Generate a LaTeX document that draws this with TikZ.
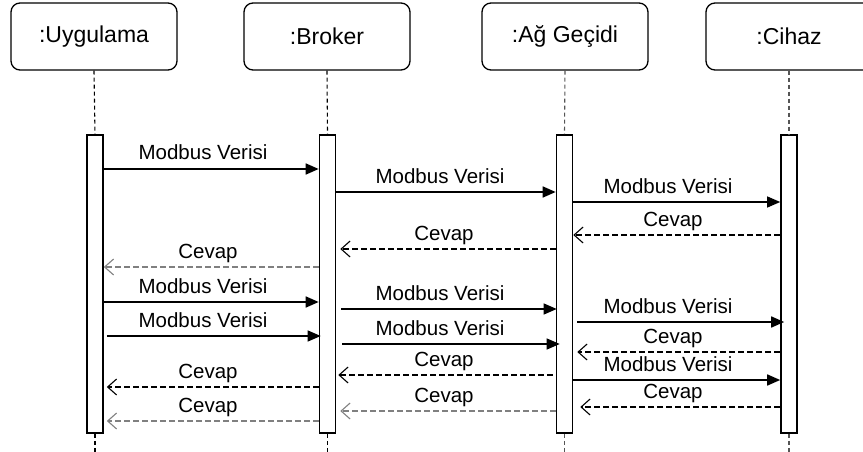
\documentclass[tikz,border=0pt]{standalone}
\usepackage{fontspec}
\setmainfont{Liberation Sans}
\usetikzlibrary{arrows.meta}
\definecolor{retgray}{HTML}{808080}
\definecolor{lifegray}{HTML}{555555}
\begin{document}
\begin{tikzpicture}[x=1pt,y=-1pt,
  head/.style={draw, rounded corners=9pt, line width=1.3pt, minimum width=166pt, minimum height=67pt, font=\fontsize{23}{27}\selectfont, inner sep=0pt},
  bar/.style={draw, fill=white, line width=1.6pt, minimum width=16pt, minimum height=298pt, inner sep=0pt},
  life/.style={line width=1.1pt, dash pattern=on 4pt off 3pt},
  msg/.style={line width=1.6pt, -{Triangle[length=13pt,width=11pt]}},
  thinmsg/.style={line width=1.2pt, -{Triangle[length=13pt,width=11pt]}},
  ret/.style={line width=1.6pt, dash pattern=on 6pt off 3pt, -{Straight Barb[length=9pt,width=16pt,line width=1.1pt]}},
  gret/.style={ret, line width=2pt, draw=retgray},
  lbl/.style={font=\fontsize{20.5}{24}\selectfont, inner sep=0pt, anchor=base}
]
\useasboundingbox (0,0) rectangle (863,452);
% headers
\node[head] (hu) at (94,36.5) {:Uygulama};
\node[head] (hb) at (327,36.5) {:Broker};
\node[head] (hg) at (565,36.5) {:Ağ Geçidi};
\node[head] (hc) at (789,36.5) {:Cihaz};
% activation bars
\node[bar] (u) at (95,284) {};
\node[bar] (b) at (327.5,284) {};
\node[bar] (g) at (564.5,284) {};
\node[bar] (c) at (789,284) {};
% lifelines
\coordinate (eu) at (95,452);
\coordinate (eb) at (327.5,452);
\coordinate (eg) at (564.5,452);
\coordinate (ec) at (789,452);
\draw[life] (hu.south) -- (u.north);
\draw[life] (hb.south) -- (b.north);
\draw[life, draw=lifegray] (hg.south) -- (g.north);
\draw[life, draw=lifegray] (hc.south) -- (c.north);
\draw[life] (u.south) -- (eu);
\draw[life] (b.south) -- (eb);
\draw[life, draw=lifegray] (g.south) -- (eg);
\draw[life, draw=lifegray] (c.south) -- (ec);
% messages
\draw[msg] (u.east |- 0,169) -- (b.west |- 0,169);
\node[lbl] (l1) at (203,160) {Modbus Verisi};
\draw[msg] (b.east |- 0,192) -- (g.west |- 0,192);
\node[lbl] (l2) at (440,183) {Modbus Verisi};
\draw[thinmsg] (g.east |- 0,202) -- (c.west |- 0,202);
\node[lbl] (l3) at (668,193) {Modbus Verisi};
\draw[ret] (c.west |- 0,235) -- (g.east |- 0,235);
\node[lbl] (l4) at (673,226) {Cevap};
\draw[ret] (g.west |- 0,249) -- ([xshift=4pt]b.east |- 0,249);
\node[lbl] (l5) at (444,240) {Cevap};
\draw[gret] (b.west |- 0,267) -- (u.east |- 0,267);
\node[lbl] (l6) at (208,258) {Cevap};
\draw[msg] (u.east |- 0,302) -- (b.west |- 0,302);
\node[lbl] (l7) at (203,293) {Modbus Verisi};
\draw[thinmsg] ([xshift=3pt]u.east |- 0,336) -- ([xshift=2pt]b.west |- 0,336);
\node[lbl] (l8) at (203,327) {Modbus Verisi};
\draw[thinmsg] ([xshift=5pt]b.east |- 0,309) -- ([xshift=1pt]g.west |- 0,309);
\node[lbl] (l9) at (440,300) {Modbus Verisi};
\draw[thinmsg] ([xshift=6pt]b.east |- 0,344) -- ([xshift=4pt]g.west |- 0,344);
\node[lbl] (l10) at (440,335) {Modbus Verisi};
\draw[ret] ([xshift=-3pt]g.west |- 0,375) -- ([xshift=2pt]b.east |- 0,375);
\node[lbl] (l11) at (444,366) {Cevap};
\draw[gret] (g.west |- 0,411) -- ([xshift=4pt]b.east |- 0,411);
\node[lbl] (l12) at (444,402) {Cevap};
\draw[ret] (b.west |- 0,387) -- ([xshift=3pt]u.east |- 0,387);
\node[lbl] (l13) at (208,378) {Cevap};
\draw[gret] (b.west |- 0,421) -- ([xshift=3pt]u.east |- 0,421);
\node[lbl] (l14) at (208,412) {Cevap};
\draw[msg] ([xshift=4pt]g.east |- 0,322) -- ([xshift=4pt]c.west |- 0,322);
\node[lbl] (l15) at (668,313) {Modbus Verisi};
\draw[ret] (c.west |- 0,352) -- ([xshift=4pt]g.east |- 0,352);
\node[lbl] (l16) at (673,343) {Cevap};
\draw[msg] (g.east |- 0,380) -- (c.west |- 0,380);
\node[lbl] (l17) at (668,371) {Modbus Verisi};
\draw[ret] (c.west |- 0,407) -- ([xshift=7pt]g.east |- 0,407);
\node[lbl] (l18) at (673,398) {Cevap};
\end{tikzpicture}
\end{document}
